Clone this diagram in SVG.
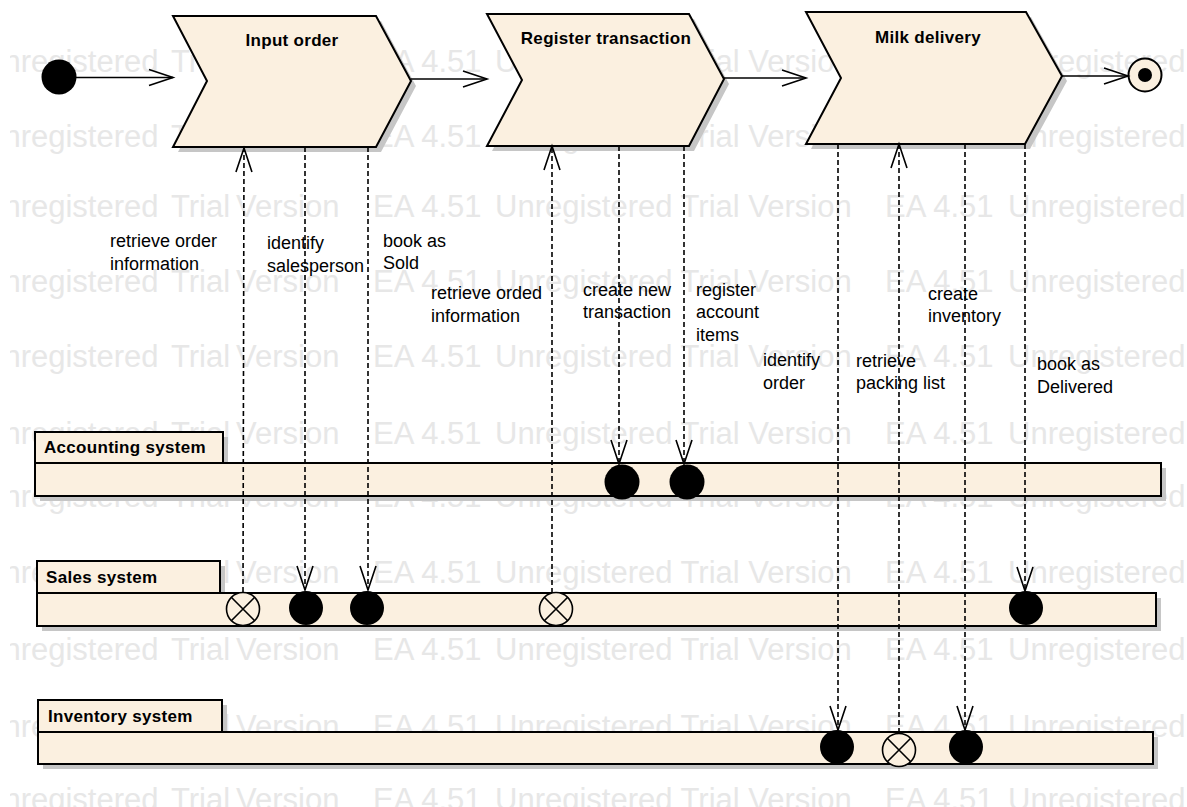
<svg xmlns="http://www.w3.org/2000/svg" width="1187" height="807" viewBox="0 0 1187 807">
  <style>
    .wm { font-family: "Liberation Sans", Arial, sans-serif; font-size: 31px; fill: #e7e7e7; }
    .title { font-family: "Liberation Sans", Arial, sans-serif; font-size: 17px; font-weight: bold; fill: #000; letter-spacing: 0.3px; }
    .lbl { font-family: "Liberation Sans", Arial, sans-serif; font-size: 18px; fill: #000; }
    .shape { fill: #fbf0e0; stroke: #000; stroke-width: 2; }
    .shadow { fill: #c6c6c6; stroke: none; }
    .flow { fill: none; stroke: #000; stroke-width: 1.6; }
    .dep { fill: none; stroke: #000; stroke-width: 1.6; stroke-dasharray: 5 3; }
    .dot { fill: #000; }
    .xcirc { fill: #fbf0e0; stroke: #000; stroke-width: 1.6; }
  </style>
  <defs>
    <marker id="open" markerUnits="userSpaceOnUse" markerWidth="28" markerHeight="20" refX="24" refY="8" orient="auto" overflow="visible">
      <path d="M0,0 L24,8 L0,16" fill="none" stroke="#000" stroke-width="1.6"/>
    </marker>
    <clipPath id="canvas">
      <rect x="10" y="0" width="1177" height="807"/>
    </clipPath>
  </defs>

  <rect width="1187" height="807" fill="#fff"/>

  <!-- background watermark rows -->
  <g id="watermark" class="wm" clip-path="url(#canvas)">
    <text y="72"><tspan x="-19">Unregistered</tspan><tspan x="171">Trial</tspan><tspan x="236">Version</tspan><tspan x="373">EA 4.51</tspan><tspan x="495">Unregistered Trial Version</tspan><tspan x="885">EA 4.51</tspan><tspan x="1008">Unregistered</tspan></text>
    <text y="147"><tspan x="-19">Unregistered</tspan><tspan x="171">Trial</tspan><tspan x="236">Version</tspan><tspan x="373">EA 4.51</tspan><tspan x="495">Unregistered Trial Version</tspan><tspan x="885">EA 4.51</tspan><tspan x="1008">Unregistered</tspan></text>
    <text y="217"><tspan x="-19">Unregistered</tspan><tspan x="171">Trial</tspan><tspan x="236">Version</tspan><tspan x="373">EA 4.51</tspan><tspan x="495">Unregistered Trial Version</tspan><tspan x="885">EA 4.51</tspan><tspan x="1008">Unregistered</tspan></text>
    <text y="292"><tspan x="-19">Unregistered</tspan><tspan x="171">Trial</tspan><tspan x="236">Version</tspan><tspan x="373">EA 4.51</tspan><tspan x="495">Unregistered Trial Version</tspan><tspan x="885">EA 4.51</tspan><tspan x="1008">Unregistered</tspan></text>
    <text y="367"><tspan x="-19">Unregistered</tspan><tspan x="171">Trial</tspan><tspan x="236">Version</tspan><tspan x="373">EA 4.51</tspan><tspan x="495">Unregistered Trial Version</tspan><tspan x="885">EA 4.51</tspan><tspan x="1008">Unregistered</tspan></text>
    <text y="444"><tspan x="-19">Unregistered</tspan><tspan x="171">Trial</tspan><tspan x="236">Version</tspan><tspan x="373">EA 4.51</tspan><tspan x="495">Unregistered Trial Version</tspan><tspan x="885">EA 4.51</tspan><tspan x="1008">Unregistered</tspan></text>
    <text y="507"><tspan x="-19">Unregistered</tspan><tspan x="171">Trial</tspan><tspan x="236">Version</tspan><tspan x="373">EA 4.51</tspan><tspan x="495">Unregistered Trial Version</tspan><tspan x="885">EA 4.51</tspan><tspan x="1008">Unregistered</tspan></text>
    <text y="583"><tspan x="-19">Unregistered</tspan><tspan x="171">Trial</tspan><tspan x="236">Version</tspan><tspan x="373">EA 4.51</tspan><tspan x="495">Unregistered Trial Version</tspan><tspan x="885">EA 4.51</tspan><tspan x="1008">Unregistered</tspan></text>
    <text y="660"><tspan x="-19">Unregistered</tspan><tspan x="171">Trial</tspan><tspan x="236">Version</tspan><tspan x="373">EA 4.51</tspan><tspan x="495">Unregistered Trial Version</tspan><tspan x="885">EA 4.51</tspan><tspan x="1008">Unregistered</tspan></text>
    <text y="737"><tspan x="-19">Unregistered</tspan><tspan x="171">Trial</tspan><tspan x="236">Version</tspan><tspan x="373">EA 4.51</tspan><tspan x="495">Unregistered Trial Version</tspan><tspan x="885">EA 4.51</tspan><tspan x="1008">Unregistered</tspan></text>
    <text y="810"><tspan x="-19">Unregistered</tspan><tspan x="171">Trial</tspan><tspan x="236">Version</tspan><tspan x="373">EA 4.51</tspan><tspan x="495">Unregistered Trial Version</tspan><tspan x="885">EA 4.51</tspan><tspan x="1008">Unregistered</tspan></text>
  </g>

  <!-- system partitions -->
  <g id="lane-accounting">
    <rect class="shadow" x="40" y="468" width="1126" height="33"/>
    <rect class="shadow" x="40" y="437" width="188" height="31"/>
    <rect class="shape" x="35" y="432" width="188" height="31"/>
    <rect class="shape" x="35" y="463" width="1126" height="33"/>
    <text class="title" x="44" y="453">Accounting system</text>
  </g>
  <g id="lane-sales">
    <rect class="shadow" x="42" y="598" width="1119" height="33"/>
    <rect class="shadow" x="42" y="566" width="183" height="32"/>
    <rect class="shape" x="37" y="561" width="183" height="32"/>
    <rect class="shape" x="37" y="593" width="1119" height="33"/>
    <text class="title" x="46" y="583">Sales system</text>
  </g>
  <g id="lane-inventory">
    <rect class="shadow" x="43" y="737" width="1115" height="32"/>
    <rect class="shadow" x="43" y="705" width="184" height="32"/>
    <rect class="shape" x="38" y="700" width="184" height="32"/>
    <rect class="shape" x="38" y="732" width="1115" height="32"/>
    <text class="title" x="48" y="722">Inventory system</text>
  </g>

  <!-- process steps -->
  <g id="step-input-order">
    <polygon class="shadow" points="178,21 381,21 416,86 381,152 178,152 212,86"/>
    <polygon class="shape" points="173,16 376,16 411,81 376,147 173,147 207,81"/>
    <text class="title" x="292" y="46" text-anchor="middle">Input order</text>
  </g>
  <g id="step-register-transaction">
    <polygon class="shadow" points="492,19 694,19 729,84 694,151 492,151 527,85"/>
    <polygon class="shape" points="487,14 689,14 724,79 689,146 487,146 522,80"/>
    <text class="title" x="606" y="44" text-anchor="middle">Register transaction</text>
  </g>
  <g id="step-milk-delivery">
    <polygon class="shadow" points="811,17 1031,17 1067,81 1030,149 811,149 846,83"/>
    <polygon class="shape" points="806,12 1026,12 1062,76 1025,144 806,144 841,78"/>
    <text class="title" x="928" y="43" text-anchor="middle">Milk delivery</text>
  </g>

  <!-- start and end -->
  <g id="start">
    <circle class="dot" cx="59" cy="77" r="17.5"/>
  </g>
  <g id="end">
    <circle cx="1145" cy="75" r="16.5" fill="#fbf0e0" stroke="#000" stroke-width="2"/>
    <circle class="dot" cx="1145" cy="75" r="7"/>
  </g>

  <!-- data objects on the system lanes -->
  <g id="acc-new-transaction"><circle class="dot" cx="622" cy="482" r="17.5"/></g>
  <g id="acc-account-items"><circle class="dot" cx="687" cy="482" r="17.5"/></g>
  <g id="sales-order-info"><circle class="xcirc" cx="243" cy="609" r="16.5"/><path class="flow" d="M231.3,597.3 L254.7,620.7 M254.7,597.3 L231.3,620.7"/></g>
  <g id="sales-salesperson"><circle class="dot" cx="306" cy="608" r="17"/></g>
  <g id="sales-sold"><circle class="dot" cx="367" cy="608" r="17"/></g>
  <g id="sales-orded-info"><circle class="xcirc" cx="556" cy="609" r="16.5"/><path class="flow" d="M544.3,597.3 L567.7,620.7 M567.7,597.3 L544.3,620.7"/></g>
  <g id="sales-delivered"><circle class="dot" cx="1026" cy="608" r="17"/></g>
  <g id="inv-order"><circle class="dot" cx="837" cy="747" r="17"/></g>
  <g id="inv-packing-list"><circle class="xcirc" cx="899" cy="750" r="16.5"/><path class="flow" d="M887.3,738.3 L910.7,761.7 M910.7,738.3 L887.3,761.7"/></g>
  <g id="inv-inventory"><circle class="dot" cx="966" cy="747" r="17"/></g>

  <!-- connectors -->
  <g id="connectors">
    <line class="flow" x1="76" y1="77.5" x2="173" y2="77.5" marker-end="url(#open)"/>
    <line class="flow" x1="411" y1="79" x2="487" y2="79" marker-end="url(#open)"/>
    <line class="flow" x1="724" y1="78" x2="806" y2="78" marker-end="url(#open)"/>
    <line class="flow" x1="1062" y1="76" x2="1128" y2="76" marker-end="url(#open)"/>

    <line class="dep" x1="243" y1="592" x2="244" y2="148" marker-end="url(#open)"/>
    <line class="dep" x1="305" y1="147" x2="305" y2="590" marker-end="url(#open)"/>
    <line class="dep" x1="368" y1="147" x2="368" y2="590" marker-end="url(#open)"/>
    <line class="dep" x1="552" y1="593" x2="552" y2="146" marker-end="url(#open)"/>
    <line class="dep" x1="619" y1="146" x2="619" y2="464" marker-end="url(#open)"/>
    <line class="dep" x1="684" y1="146" x2="684" y2="464" marker-end="url(#open)"/>
    <line class="dep" x1="838" y1="144" x2="838" y2="730" marker-end="url(#open)"/>
    <line class="dep" x1="899" y1="733" x2="899" y2="144" marker-end="url(#open)"/>
    <line class="dep" x1="965" y1="144" x2="965" y2="730" marker-end="url(#open)"/>
    <line class="dep" x1="1025" y1="144" x2="1025" y2="591" marker-end="url(#open)"/>
  </g>

  <!-- connector labels -->
  <g id="labels" class="lbl">
    <text x="110" y="247">retrieve order</text>
    <text x="110" y="270">information</text>
    <text x="267" y="249">identify</text>
    <text x="267" y="272">salesperson</text>
    <text x="383" y="247">book as</text>
    <text x="383" y="269">Sold</text>
    <text x="431" y="299">retrieve orded</text>
    <text x="431" y="322">information</text>
    <text x="583" y="296">create new</text>
    <text x="583" y="318">transaction</text>
    <text x="696" y="296">register</text>
    <text x="696" y="318">account</text>
    <text x="696" y="341">items</text>
    <text x="763" y="366">identify</text>
    <text x="763" y="389">order</text>
    <text x="856" y="367">retrieve</text>
    <text x="856" y="389">packing list</text>
    <text x="928" y="300">create</text>
    <text x="928" y="322">inventory</text>
    <text x="1037" y="370">book as</text>
    <text x="1037" y="393">Delivered</text>
  </g>
</svg>
